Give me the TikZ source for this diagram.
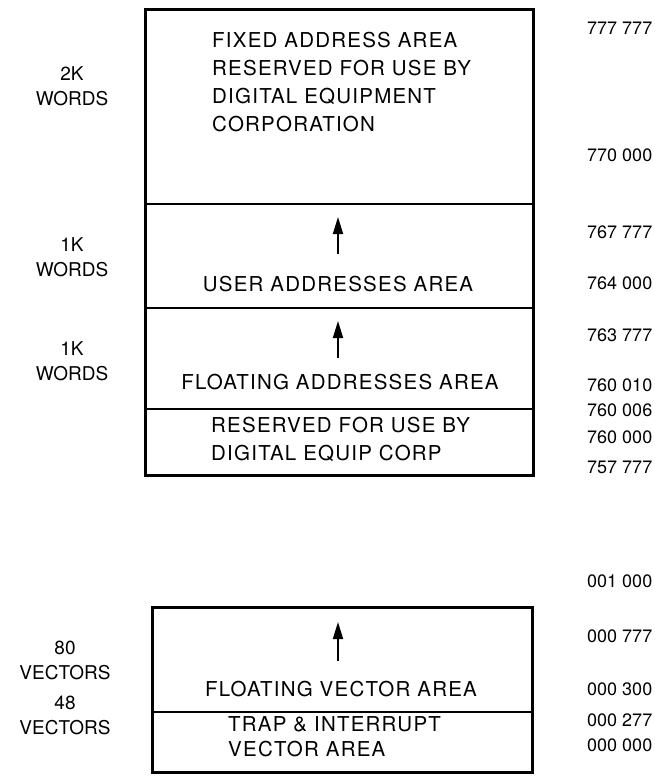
\documentclass[tikz,border=0pt]{standalone}
\usepackage{fontspec}
\setmainfont{TeX Gyre Heros}
\usetikzlibrary{arrows.meta}
\newfontfamily\boxfont[LetterSpace=6]{TeX Gyre Heros}
\tikzset{
  outer/.style={line width=3pt, line join=miter},
  divider/.style={line width=2pt},
  inner/.style={font=\boxfont\fontsize{20.5}{28}\selectfont, align=center, inner sep=0pt},
  innerl/.style={font=\boxfont\fontsize{20.5}{28}\selectfont, align=left, inner sep=0pt, anchor=west},
  side/.style={font=\fontsize{19}{25}\selectfont, align=center, inner sep=0pt},
  addr/.style={font=\fontsize{18}{20}\selectfont, anchor=west, inner sep=0pt},
  uparrow/.style={line width=1.8pt, -{Triangle[width=10pt,length=17pt]}}
}
\begin{document}
\begin{tikzpicture}[x=1pt,y=-1pt]
\useasboundingbox (0,0) rectangle (655,776);
% upper map
\draw[outer] (145,10) rectangle (533,475);
\coordinate (d1l) at (145,204); \coordinate (d1r) at (533,204);
\coordinate (d2l) at (145,308); \coordinate (d2r) at (533,308);
\coordinate (d3l) at (145,409); \coordinate (d3r) at (533,409);
\draw[divider] (d1l) -- (d1r);
\draw[divider] (d2l) -- (d2r);
\draw[divider] (d3l) -- (d3r);
\node[innerl] (fixed) at (212,82) {FIXED ADDRESS AREA\\RESERVED FOR USE BY\\DIGITAL EQUIPMENT\\CORPORATION};
\coordinate (a1s) at (338,254); \coordinate (a1e) at (338,217);
\draw[uparrow] (a1s) -- (a1e);
\node[inner] (user) at (338,284) {USER ADDRESSES AREA};
\coordinate (a2s) at (338,358); \coordinate (a2e) at (338,321);
\draw[uparrow] (a2s) -- (a2e);
\node[inner] (float) at (340,382) {FLOATING ADDRESSES AREA};
\node[innerl] (resv) at (211,439) {RESERVED FOR USE BY\\DIGITAL EQUIP CORP};
% left labels
\node[side] (w2k) at (72,86) {2K\\WORDS};
\node[side] (w1ka) at (72,257) {1K\\WORDS};
\node[side] (w1kb) at (72,361) {1K\\WORDS};
% right addresses
\node[addr] (n1) at (587,28) {777 777};
\node[addr] (n2) at (587,155) {770 000};
\node[addr] (n3) at (587,232) {767 777};
\node[addr] (n4) at (587,283) {764 000};
\node[addr] (n5) at (587,335) {763 777};
\node[addr] (n6) at (587,385) {760 010};
\node[addr] (n7) at (587,410) {760 006};
\node[addr] (n8) at (587,437) {760 000};
\node[addr] (n9) at (587,467) {757 777};
% lower map
\draw[outer] (152,607) rectangle (532,772);
\coordinate (d4l) at (152,712); \coordinate (d4r) at (532,712);
\draw[divider] (d4l) -- (d4r);
\coordinate (a3s) at (338,661); \coordinate (a3e) at (338,622);
\draw[uparrow] (a3s) -- (a3e);
\node[inner] (fvec) at (341,689) {FLOATING VECTOR AREA};
\node[innerl, font=\boxfont\fontsize{20.5}{25}\selectfont] (trap) at (228,737) {TRAP \& INTERRUPT\\VECTOR AREA};
\node[side] (v80) at (65,660) {80\\VECTORS};
\node[side] (v48) at (65,715) {48\\VECTORS};
\node[addr] (m1) at (587,581) {001 000};
\node[addr] (m2) at (587,636) {000 777};
\node[addr] (m3) at (587,689) {000 300};
\node[addr] (m4) at (587,720) {000 277};
\node[addr] (m5) at (587,745) {000 000};
\end{tikzpicture}
\end{document}
